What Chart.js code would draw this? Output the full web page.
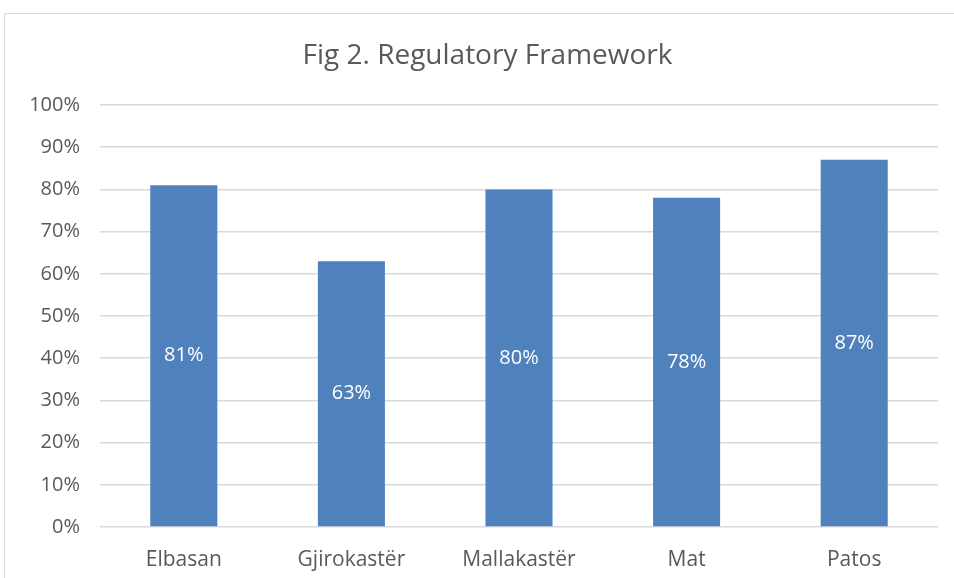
<!DOCTYPE html>
<html>
<head>
<meta charset="utf-8">
<script src="https://cdn.jsdelivr.net/npm/chart.js@4"></script>
<style>
    html, body { margin: 0; padding: 0; background: #fff; }
    #wrap { position: relative; width: 954px; height: 578px; overflow: hidden; }
    #frame { position: absolute; left: 4px; top: 13px; width: 1000px; height: 700px;
             border-left: 1px solid #d9d9d9; border-top: 1px solid #d9d9d9; }
    canvas { position: absolute; left: 0; top: 0; }
</style>
</head>
<body>
<div id="wrap">
    <div id="frame"></div>
    <canvas id="myChart" width="954" height="578"></canvas>
</div>
<script>
const categories = ['Elbasan', 'Gjirokastër', 'Mallakastër', 'Mat', 'Patos'];
const values = [81, 63, 80, 78, 87];
const yTicks = [0, 10, 20, 30, 40, 50, 60, 70, 80, 90, 100];
const chartTitle = 'Fig 2. Regulatory Framework';

const fontFamily = "'Open Sans', 'Noto Sans', sans-serif";
const textGray = '#595959';

// draw value labels in the middle of each bar
const barLabels = {
    id: 'barLabels',
    afterDatasetsDraw(chart) {
        const ctx = chart.ctx;
        const meta = chart.getDatasetMeta(0);
        ctx.save();
        ctx.fillStyle = '#ffffff';
        ctx.font = '20px ' + fontFamily;
        ctx.textAlign = 'center';
        ctx.textBaseline = 'middle';
        meta.data.forEach((bar, i) => {
            const mid = (bar.y + bar.base) / 2;
            ctx.fillText(values[i] + '%', bar.x, mid);
        });
        ctx.restore();
    }
};

// title is centred over the framed box, not the canvas
const boxTitle = {
    id: 'boxTitle',
    afterDraw(chart) {
        const ctx = chart.ctx;
        ctx.save();
        ctx.fillStyle = textGray;
        ctx.font = '28px ' + fontFamily;
        ctx.textAlign = 'center';
        ctx.textBaseline = 'middle';
        ctx.fillText(chartTitle, (37 + chart.chartArea.right) / 2, 56);
        ctx.restore();
    }
};

const initializeChart = () => {
    const ctx = document.getElementById('myChart').getContext('2d');
    new Chart(ctx, {
        type: 'bar',
        data: {
            labels: categories,
            datasets: [{
                data: values,
                backgroundColor: '#4f81bd',
                borderWidth: 0,
                categoryPercentage: 1.0,
                barPercentage: 0.4
            }]
        },
        options: {
            responsive: false,
            animation: false,
            layout: { padding: { left: 0, right: 16, top: 105, bottom: 0 } },
            plugins: {
                legend: { display: false },
                tooltip: { enabled: false },
                title: { display: false }
            },
            scales: {
                x: {
                    grid: { display: false },
                    border: { display: false },
                    ticks: { color: textGray, font: { family: fontFamily, size: 21 }, padding: 12 },
                    afterFit: s => { s.height = 51; }
                },
                y: {
                    min: 0,
                    max: 100,
                    afterBuildTicks: s => { s.ticks = yTicks.map(v => ({ value: v })); },
                    grid: { color: '#d9d9d9', lineWidth: 1.5, drawTicks: false },
                    border: { display: false },
                    ticks: {
                        color: textGray,
                        font: { family: fontFamily, size: 20 },
                        padding: 20,
                        callback: v => v + '%'
                    },
                    afterFit: s => { s.width = 100; }
                }
            }
        },
        plugins: [barLabels, boxTitle]
    });
};

initializeChart();
</script>
</body>
</html>
